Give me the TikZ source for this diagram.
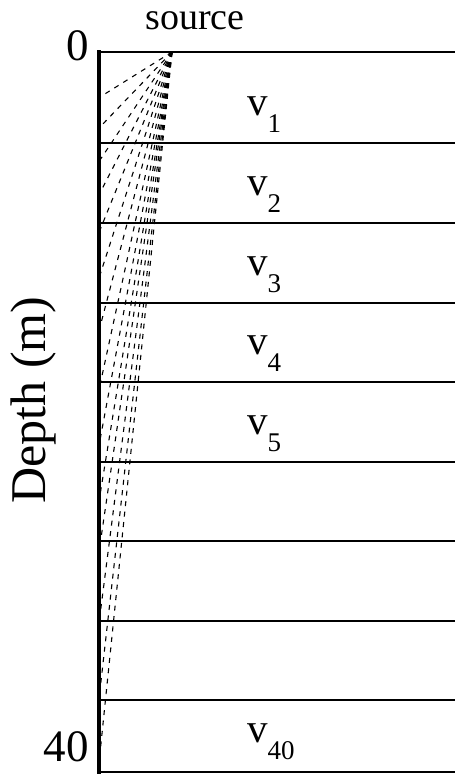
\documentclass[tikz,border=0pt]{standalone}
\usepackage{fontspec}
\setmainfont{Liberation Serif}
\begin{document}
\begin{tikzpicture}[x=1pt,y=-1pt,
  layerline/.style={line width=1.4pt},
  axisline/.style={line width=3.6pt},
  ray/.style={dash pattern=on 5pt off 5.5pt, line width=1.1pt},
  lbl/.style={font=\fontsize{38}{40}\selectfont, inner sep=0pt},
  numlbl/.style={font=\fontsize{45}{46}\selectfont, inner sep=0pt, anchor=east},
  vlab/.style={font=\fontsize{41}{41}\selectfont, inner sep=0pt, anchor=base}]
\useasboundingbox (0,0) rectangle (455,776);
% frame
\coordinate (tl) at (99,52);
\coordinate (tr) at (455,52);
\coordinate (bl) at (99,772);
\coordinate (br) at (455,772);
\draw[layerline] (tl) -- (tr);
\draw[layerline] (bl) -- (br);
\foreach \y in {143,223,303,382,462,541,621,700}{
  \draw[layerline] (99,\y) -- (455,\y);
}
% rays
\coordinate (src) at (172,52);
\foreach \y [count=\i] in {97,127,160,193,230,275,327,385,440,495,545,615,690,753}{
  \coordinate (r\i) at (100,\y);
  \draw[ray] (src) -- (r\i);
}
\draw[axisline] (99,50.4) -- (99,773.6);
% labels
\node[lbl] (srclab) at (195,21) {source};
\node[numlbl] (zero) at (89,46) {0};
\node[numlbl] (forty) at (89,747) {40};
\node[lbl, rotate=90, font=\fontsize{50}{52}\selectfont] (depth) at (33,400) {Depth (m)};
\foreach \yb/\s [count=\k] in {115/1,195/2,275/3,354/4,434/5,742/40}{
  \node[vlab, anchor=base west] (v\k) at (247,\yb) {v\raisebox{-0.42em}{\fontsize{27}{27}\selectfont\s}};
}
\end{tikzpicture}
\end{document}
